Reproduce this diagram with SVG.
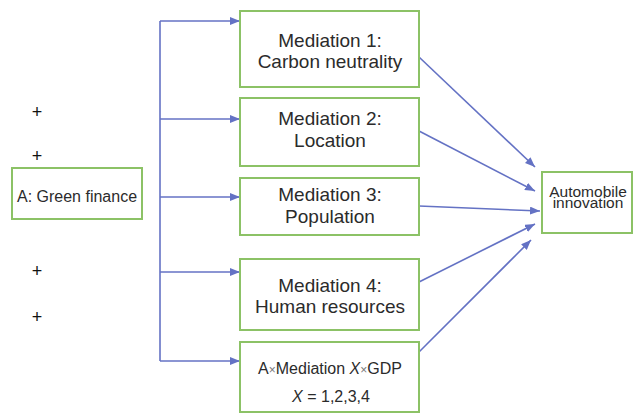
<svg xmlns="http://www.w3.org/2000/svg" width="635" height="413" viewBox="0 0 635 413">
<defs>
<style>
.box{fill:#fff;stroke:#8cc266;stroke-width:2}
.t{font-family:"Liberation Sans",Arial,sans-serif;fill:#2b2b2b;text-anchor:middle}
.m{font-size:19px}
.s{font-size:16px}
.p{font-family:"Liberation Sans",Arial,sans-serif;font-size:18px;fill:#111;text-anchor:middle}
.c{fill:none;stroke:#6472c4;stroke-width:1.6}
</style>
<marker id="ah" viewBox="0 0 10 8" refX="10" refY="4" markerWidth="10" markerHeight="8" markerUnits="userSpaceOnUse" orient="auto">
<path d="M0,0 L10,4 L0,8 Z" fill="#6472c4"/>
</marker>
</defs>
<rect width="635" height="413" fill="#fff"/>
<g id="connectors">
<path class="c" d="M160,21 V361"/>
<path class="c" d="M160,21 H240" marker-end="url(#ah)"/>
<path class="c" d="M160,119 H240" marker-end="url(#ah)"/>
<path class="c" d="M160,197 H240" marker-end="url(#ah)"/>
<path class="c" d="M160,272 H240" marker-end="url(#ah)"/>
<path class="c" d="M160,361 H240" marker-end="url(#ah)"/>
<path class="c" d="M419,57 L535,167" marker-end="url(#ah)"/>
<path class="c" d="M419,131 L535,191" marker-end="url(#ah)"/>
<path class="c" d="M419,206 L540,211" marker-end="url(#ah)"/>
<path class="c" d="M419,282 L535,224" marker-end="url(#ah)"/>
<path class="c" d="M419,352 L531,240" marker-end="url(#ah)"/>
</g>
<g id="signs">
<text class="p" x="37" y="118">+</text>
<text class="p" x="37" y="162">+</text>
<text class="p" x="37" y="277">+</text>
<text class="p" x="37" y="323">+</text>
</g>
<g id="green-finance">
<rect class="box" x="12" y="168" width="130" height="51"/>
<text class="t s" x="77" y="202">A: Green finance</text>
</g>
<g id="mediation1">
<rect class="box" x="240" y="11" width="179" height="76"/>
<text class="t m" x="330" y="47">Mediation 1:</text>
<text class="t m" x="330" y="68">Carbon neutrality</text>
</g>
<g id="mediation2">
<rect class="box" x="240" y="98" width="179" height="68"/>
<text class="t m" x="330" y="125">Mediation 2:</text>
<text class="t m" x="330" y="147">Location</text>
</g>
<g id="mediation3">
<rect class="box" x="240" y="178" width="179" height="57"/>
<text class="t m" x="330" y="201">Mediation 3:</text>
<text class="t m" x="330" y="223">Population</text>
</g>
<g id="mediation4">
<rect class="box" x="240" y="259" width="179" height="71"/>
<text class="t m" x="330" y="292">Mediation 4:</text>
<text class="t m" x="330" y="313">Human resources</text>
</g>
<g id="interaction">
<rect class="box" x="240" y="342" width="179" height="70"/>
<text class="t s" x="330" y="374">A<tspan font-size="12" fill="#777">×</tspan>Mediation <tspan font-style="italic">X</tspan><tspan font-size="12" fill="#777">×</tspan>GDP</text>
<text class="t s" x="331" y="402"><tspan font-style="italic">X</tspan> = 1,2,3,4</text>
</g>
<g id="automobile">
<rect class="box" x="542" y="172" width="90" height="61"/>
<text class="t" x="588" y="197" font-size="15.5">Automobile</text>
<text class="t" x="588" y="208" font-size="15.5">innovation</text>
</g>
</svg>
